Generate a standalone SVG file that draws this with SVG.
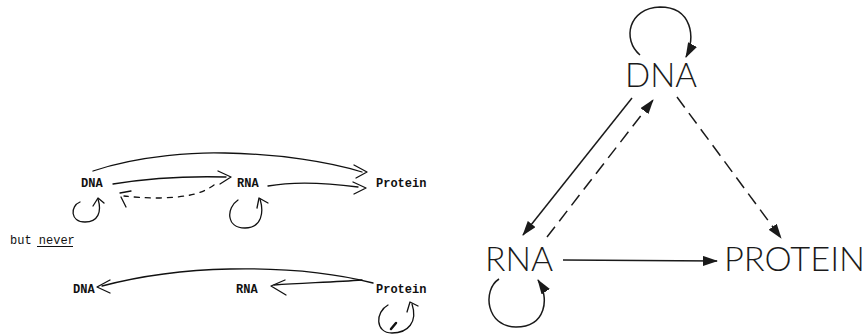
<svg xmlns="http://www.w3.org/2000/svg" width="867" height="336" viewBox="0 0 867 336">
<style>
.tw{font-family:"Liberation Mono","Courier New",monospace;font-size:12px;fill:#111}
.twb{font-weight:bold}
.hand{fill:none;stroke:#111;stroke-width:1.3;stroke-linecap:round;stroke-linejoin:round}
.dash{stroke-dasharray:5 6}
.lbl{font-family:Lato,"DejaVu Sans",sans-serif;font-weight:300;font-size:33px;fill:#1a1a1a}
.ln{fill:none;stroke:#1a1a1a;stroke-width:1.5}
.dsh{stroke-dasharray:13 7}
</style>
<defs>
<marker id="ah" viewBox="0 0 15 10" refX="14" refY="5" markerWidth="15" markerHeight="10" markerUnits="userSpaceOnUse" orient="auto">
<path d="M0,0 L15,5 L0,10 z" fill="#1a1a1a"/>
</marker>
</defs>
<rect width="867" height="336" fill="#fff"/>

<!-- Left panel: typewritten scheme -->
<g id="l-dna-top"><text class="tw twb" x="81" y="187">DNA</text></g>
<g id="l-rna-top"><text class="tw twb" x="237" y="187">RNA</text></g>
<g id="l-protein-top"><text class="tw twb" x="376" y="187">Protein</text></g>
<g id="l-but-never"><text class="tw" x="10" y="244">but never</text><line x1="37" y1="246.5" x2="73" y2="246.5" stroke="#111" stroke-width="1"/></g>
<g id="l-dna-bottom"><text class="tw twb" x="73" y="293">DNA</text></g>
<g id="l-rna-bottom"><text class="tw twb" x="236" y="293">RNA</text></g>
<g id="l-protein-bottom"><text class="tw twb" x="376" y="293">Protein</text></g>

<g id="l-connectors" class="hand">
<path d="M93,171 C140,155 200,152 225,153 C280,154 330,162 362,172"/>
<path d="M354,165 L367,172 L356,178"/>
<path d="M113,184 C150,178 190,176 226,177"/>
<path d="M218,171 L231,177 L220,184"/>
<path d="M268,186 C290,182 320,182 358,187"/>
<path d="M353,182 L366,188 L354,194"/>
<path class="dash" d="M214,185 C200,195 185,197 160,198 C145,198 132,197 124,196"/>
<path d="M131,191 L120,193 M121,197 L126,207"/>
<path d="M80,202 C70,206 70,222 85,222 C98,222 102,212 98,199"/>
<path d="M93,206 L98,198 L104,203"/>
<path d="M238,200 C226,208 226,228 245,228 C262,228 264,212 260,199"/>
<path d="M257,208 L259,198 L268,203"/>
<path d="M373,283 C330,272 280,268 230,269 C180,270 140,276 102,286"/>
<path d="M110,280 L97,287 L110,293"/>
<path d="M362,280 C335,282 305,283 274,285"/>
<path d="M285,280 L271,286 L286,295"/>
<path d="M388,305 C375,312 375,333 392,333 C408,333 418,322 412,304"/>
<path d="M407,312 L410,302 L418,306"/>
<path d="M391,329 L396,323" stroke-width="2.5"/>
</g>

<!-- Right panel: central dogma triangle -->
<g id="dna"><text class="lbl" x="625" y="87" textLength="72" lengthAdjust="spacingAndGlyphs">DNA</text></g>
<g id="rna"><text class="lbl" x="485" y="271" textLength="68" lengthAdjust="spacingAndGlyphs">RNA</text></g>
<g id="protein"><text class="lbl" x="724" y="271" textLength="141" lengthAdjust="spacingAndGlyphs">PROTEIN</text></g>

<g id="connectors">
<path class="ln" d="M640,55 C622,40 628,8 660,7 C692,7 696,38 686,57" marker-end="url(#ah)"/>
<path class="ln" d="M632,98 L523,235" marker-end="url(#ah)"/>
<path class="ln dsh" d="M547,237 L653,100" marker-end="url(#ah)"/>
<path class="ln dsh" d="M677,97 L781,238" marker-end="url(#ah)"/>
<path class="ln" d="M563,260 L717,261" marker-end="url(#ah)"/>
<path class="ln" d="M499,279 C482,290 486,327 516,327 C546,327 550,298 538,280" marker-end="url(#ah)"/>
</g>
</svg>
